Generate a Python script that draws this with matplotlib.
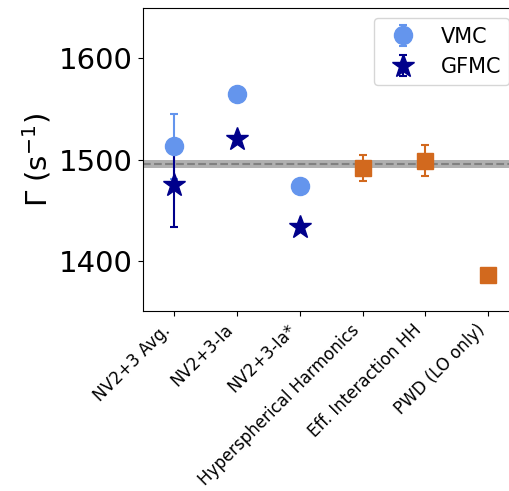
import matplotlib
matplotlib.use("Agg")
import matplotlib.pyplot as plt

labels = ["NV2+3 Avg.", "NV2+3-Ia", "NV2+3-Ia*", "Hyperspherical Harmonics",
          "Eff. Interaction HH", "PWD (LO only)"]

# QMC results (first three labels)
vmc = [1513, 1565, 1474]
vmc_err = [32, 0, 0]
gfmc = [1475, 1520, 1433]
gfmc_err = [42, 0, 0]

# other calculations (last three labels)
other = [1492, 1499, 1386]
other_err = [13, 15, 0]

# experimental value
expt = 1496
expt_err = 4

fig = plt.figure(figsize=(5.1, 4.91), dpi=100)
ax = fig.add_axes([0.280, 0.366, 0.739, 0.618])

x_qmc = [0, 1, 2]
x_other = [3, 4, 5]

ax.axhspan(expt - expt_err, expt + expt_err, color="#b0b0b0", lw=0)
ax.axhline(expt, color="grey", ls="--", lw=1.5)

ax.errorbar(x_qmc, vmc, yerr=vmc_err, fmt="o", color="cornflowerblue",
            markersize=13, capsize=3, elinewidth=1.5, capthick=1.5, label="VMC")
ax.errorbar(x_qmc, gfmc, yerr=gfmc_err, fmt="*", color="darkblue",
            markersize=17, capsize=3, elinewidth=1.5, capthick=1.5, label="GFMC")
ax.errorbar(x_other, other, yerr=other_err, fmt="s", color="chocolate",
            markersize=11, capsize=3, elinewidth=1.5, capthick=1.5)

ax.set_xlim(-0.5, 5.5)
ax.set_ylim(1350, 1650)
ax.set_yticks([1400, 1500, 1600])
ax.set_xticks(range(len(labels)))
ax.set_xticklabels(labels, rotation=45, ha="right", fontsize=12)
ax.tick_params(axis="y", labelsize=21)
ax.set_ylabel(r"$\Gamma$ (s$^{-1}$)", fontsize=21)

ax.legend(loc="upper right", fontsize=15)

fig.savefig("out.png", dpi=100)
